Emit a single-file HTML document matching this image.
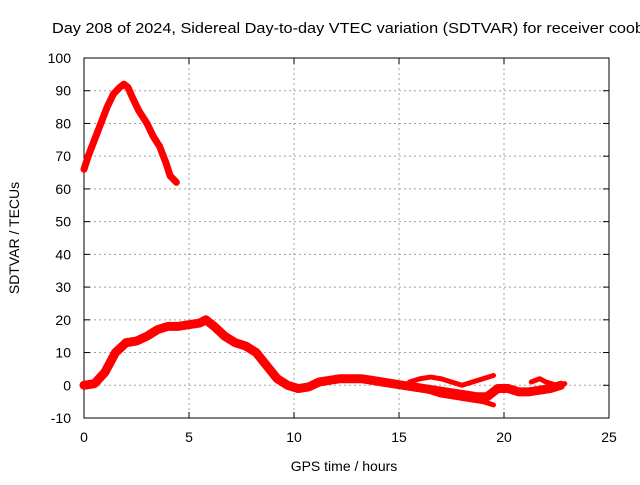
<!DOCTYPE html>
<html><head><meta charset="utf-8"><style>
body{margin:0;background:#fff;overflow:hidden}
svg text{font-family:"Liberation Sans",sans-serif;font-size:14px;fill:#000}
</style></head><body>
<svg id="chart" width="640" height="480" xmlns="http://www.w3.org/2000/svg">
<text x="52" y="33" textLength="592" lengthAdjust="spacingAndGlyphs" style="font-size:15px">Day 208 of 2024, Sidereal Day-to-day VTEC variation (SDTVAR) for receiver coob</text>
<g id="grid"></g>
<g id="axes"></g>
<g id="series"></g>
<text x="344" y="471" text-anchor="middle">GPS time / hours</text>
<text transform="translate(19,238) rotate(-90)" text-anchor="middle">SDTVAR / TECUs</text>
</svg>
<script>
const xTicks=[0,5,10,15,20,25];
const yTicks=[-10,0,10,20,30,40,50,60,70,80,90,100];
const upperT=[0,0.2,0.5,0.8,1.1,1.4,1.7,1.9,2.1,2.3,2.6,3.0,3.3,3.6,3.9,4.1,4.4];
const upperV=[66,70,75,80,85,89,91,92,91,88,84,80,76,73,68,64,62];
const mainT=[0,0.5,1,1.5,2,2.5,3,3.5,4,4.5,5,5.5,5.8,6.2,6.7,7.2,7.7,8.2,8.7,9.2,9.7,10.2,10.7,11.2,11.7,12.2,12.7,13.2,13.7,14.2,14.7,15.2,15.7,16.2,16.7,17.2,17.7,18.2,18.7,19.2,19.7,20.2,20.7,21.2,21.7,22.2,22.7];
const mainV=[0,0.5,4,10,13,13.5,15,17,18,18,18.5,19,20,18,15,13,12,10,6,2,0,-1,-0.5,1,1.5,2,2,2,1.5,1,0.5,0,-0.5,-1,-1.5,-2,-2.5,-3,-3.5,-3.5,-1,-1,-2,-2,-1.5,-1,0];
const branchAT=[15.5,16,16.5,17,17.5,18,18.5,19,19.5];
const branchAV=[1,2,2.5,2,1,0,1,2,3];
const branchBT=[16,17,18,19,19.5];
const branchBV=[-1,-3,-4,-5,-6];
const branchCT=[21.3,21.7,22,22.5,22.9];
const branchCV=[1,2,1,0,0.5];

const X0=84,X1=609,Y0=418,Y1=58;
const xs=t=>X0+(t-0)/(25-0)*(X1-X0);
const ys=v=>Y0-(v+10)/110*(Y0-Y1);
const NS="http://www.w3.org/2000/svg";
const mk=(tag,attrs,parent)=>{const e=document.createElementNS(NS,tag);for(const k in attrs)e.setAttribute(k,attrs[k]);parent.appendChild(e);return e;};
const grid=document.getElementById('grid'),axes=document.getElementById('axes'),ser=document.getElementById('series');
xTicks.forEach(t=>{
  const x=xs(t);
  if(t>0&&t<25){const g=mk('line',{x1:x,x2:x,y1:Y1,y2:Y0,stroke:'#a0a0a0','stroke-dasharray':'2,3'},grid);
  
  }
  mk('line',{x1:x,x2:x,y1:Y0,y2:Y0-6,stroke:'#000'},axes);
  mk('line',{x1:x,x2:x,y1:Y1,y2:Y1+6,stroke:'#000'},axes);
  const l=mk('text',{x:x,y:Y0+24,'text-anchor':'middle'},axes);l.textContent=t;
  
  
});
yTicks.forEach(v=>{
  const y=ys(v);
  if(v>-10&&v<100){const g=mk('line',{x1:X0,x2:X1,y1:y,y2:y,stroke:'#a0a0a0','stroke-dasharray':'2,3'},grid);
  
  }
  mk('line',{x1:X0,x2:X0+6,y1:y,y2:y,stroke:'#000'},axes);
  mk('line',{x1:X1,x2:X1-6,y1:y,y2:y,stroke:'#000'},axes);
  const l=mk('text',{x:X0-13,y:y+5,'text-anchor':'end'},axes);l.textContent=v;
  
  
});
mk('rect',{x:X0,y:Y1,width:X1-X0,height:Y0-Y1,fill:'none',stroke:'#000'},axes);
function line(T,V,name,w){
  const p=mk('polyline',{points:T.map((t,i)=>xs(t)+','+ys(V[i])).join(' '),fill:'none',stroke:'#ff0000','stroke-width':w,'stroke-linejoin':'round','stroke-linecap':'round'},ser);
  
  
}
line(upperT,upperV,'upper-trace',7);
line(mainT,mainV,'main-trace',9);
line(branchAT,branchAV,'branch-a-trace',5);
line(branchBT,branchBV,'branch-b-trace',5);
line(branchCT,branchCV,'branch-c-trace',5);
</script>
</body></html>
